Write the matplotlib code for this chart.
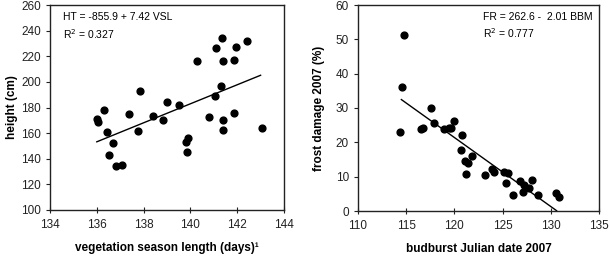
import numpy as np
import matplotlib.pyplot as plt

plt.rcParams['font.family'] = ['Liberation Sans', 'DejaVu Sans']

# Left panel: vegetation season length vs height
vsl = [136.0, 136.05, 136.3, 136.45, 136.7, 136.5, 136.8, 137.07, 137.37, 137.75,
       137.85, 138.4, 138.85, 139.0, 139.5, 139.8, 139.9, 139.85, 140.3, 140.8,
       141.1, 141.05, 141.35, 141.3, 141.4, 141.4, 141.4, 141.85, 141.85, 141.95,
       142.4, 143.05]
height = [171, 169, 178, 161, 152, 143, 134, 135.5, 175, 162,
          193, 173, 170.5, 184, 182, 153, 156, 145.5, 216.5, 172.5,
          226.5, 189, 234, 197, 216.5, 170.5, 162.5, 176, 217, 227,
          232, 164]
ht_coef = (-855.9, 7.42)
ht_range = (136.0, 143.0)

# Right panel: budburst date vs frost damage
bbm = [114.81, 114.57, 114.4, 117.6, 116.5, 116.7, 117.9, 118.9, 119.4, 119.6,
       120.0, 120.8, 120.7, 121.07, 121.4, 121.2, 121.8, 123.15, 123.9, 124.15,
       125.15, 125.6, 125.35, 126.06, 126.8, 127.2, 127.15, 127.7, 128.1, 128.7,
       130.5, 130.8]
frost = [51.2, 36.0, 23.0, 30.1, 23.8, 24.2, 25.5, 23.8, 24.3, 24.2,
         26.1, 22.1, 17.7, 14.5, 14.0, 10.9, 16.1, 10.4, 12.1, 11.5,
         11.5, 11.2, 8.1, 4.8, 8.6, 7.6, 5.4, 6.6, 8.9, 4.7,
         5.1, 4.0]
fr_coef = (262.6, -2.01)
fr_range = (114.5, 130.6)

fig = plt.figure(figsize=(6.09, 2.59), dpi=100)
ax1 = fig.add_axes([50 / 609, 49 / 259, 234 / 609, 205 / 259])
ax2 = fig.add_axes([358 / 609, 48 / 259, 241 / 609, 206 / 259])


def style(ax):
    for s in ax.spines.values():
        s.set_linewidth(1.0)
        s.set_color('#222222')
    ax.tick_params(axis='x', direction='inout', length=5, width=0.8,
                   labelsize=8.5, colors='#222222', pad=4)
    ax.tick_params(axis='y', direction='out', length=3, width=0.8,
                   labelsize=8.5, colors='#222222')


# left
ax1.scatter(vsl, height, s=24, color='black', zorder=3)
xl = np.array(ht_range)
ax1.plot(xl, ht_coef[0] + ht_coef[1] * xl, color='black', lw=1.0)
ax1.set_xlim(134, 144)
ax1.set_ylim(100, 260)
ax1.set_xticks(np.arange(134, 145, 2))
ax1.set_yticks(np.arange(100, 261, 20))
ax1.set_xlabel('vegetation season length (days)\u00b9',
               fontsize=8.5, fontweight='bold', labelpad=8)
ax1.set_ylabel('height (cm)', fontsize=8.5, fontweight='bold', labelpad=2)
ax1.text(0.056, 0.94, 'HT = -855.9 + 7.42 VSL', transform=ax1.transAxes,
         fontsize=7.5, va='center')
ax1.text(0.056, 0.86, 'R$^2$ = 0.327', transform=ax1.transAxes,
         fontsize=7.5, va='center')
style(ax1)

# right
ax2.scatter(bbm, frost, s=24, color='black', zorder=3)
xr = np.array(fr_range)
ax2.plot(xr, fr_coef[0] + fr_coef[1] * xr, color='black', lw=1.0)
ax2.set_xlim(110, 135)
ax2.set_ylim(0, 60)
ax2.set_xticks(np.arange(110, 136, 5))
ax2.set_yticks(np.arange(0, 61, 10))
ax2.set_xlabel('budburst Julian date 2007', fontsize=8.5, fontweight='bold',
               labelpad=8)
ax2.set_ylabel('frost damage 2007 (%)', fontsize=8.5, fontweight='bold',
               labelpad=8)
ax2.text(0.52, 0.94, 'FR = 262.6 -  2.01 BBM', transform=ax2.transAxes,
         fontsize=7.5, va='center')
ax2.text(0.52, 0.864, 'R$^2$ = 0.777', transform=ax2.transAxes,
         fontsize=7.5, va='center')
style(ax2)

fig.savefig('out.png', dpi=100)
